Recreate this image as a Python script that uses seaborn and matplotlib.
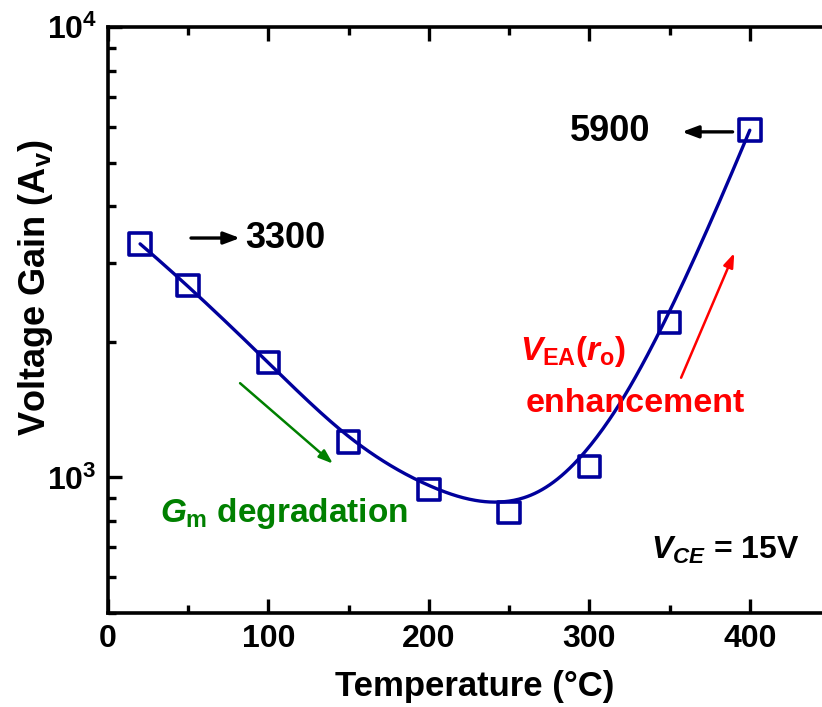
import numpy as np
import pandas as pd
import seaborn as sns
import matplotlib
matplotlib.use("Agg")
import matplotlib.pyplot as plt
from matplotlib.ticker import LogLocator, FixedLocator, NullFormatter, MultipleLocator

# Measured voltage gain vs. temperature
temperature = [20, 50, 100, 150, 200, 250, 300, 350, 400]
voltage_gain = [3300, 2670, 1800, 1200, 940, 835, 1058, 2210, 5900]

navy = "#00009C"
green = "#008000"
red = "#FF0000"

sns.set_theme(style="ticks")
plt.rcParams["font.family"] = ["Liberation Sans", "DejaVu Sans"]
plt.rcParams["font.weight"] = "bold"
plt.rcParams["text.color"] = "black"
plt.rcParams["axes.labelcolor"] = "black"
plt.rcParams["xtick.color"] = "black"
plt.rcParams["ytick.color"] = "black"
plt.rcParams["mathtext.fontset"] = "custom"
plt.rcParams["mathtext.rm"] = "Liberation Sans:bold"
plt.rcParams["mathtext.bf"] = "Liberation Sans:bold"
plt.rcParams["mathtext.it"] = "Liberation Sans:bold:italic"

df = pd.DataFrame({"T": temperature, "Av": voltage_gain})


def bspline_curve(x, y, n_out=400, k=3):
    """Clamped uniform B-spline using the data points as control points."""
    ctrl = np.column_stack([x, y]).astype(float)
    n = len(ctrl)
    knots = np.concatenate([np.zeros(k), np.arange(n - k + 1), np.full(k, n - k)]).astype(float)
    u = np.linspace(0, n - k, n_out)
    u[-1] -= 1e-9

    def basis(i, p, uu):
        if p == 0:
            return ((knots[i] <= uu) & (uu < knots[i + 1])).astype(float)
        out = np.zeros_like(uu)
        d1 = knots[i + p] - knots[i]
        d2 = knots[i + p + 1] - knots[i + 1]
        if d1 > 0:
            out += (uu - knots[i]) / d1 * basis(i, p - 1, uu)
        if d2 > 0:
            out += (knots[i + p + 1] - uu) / d2 * basis(i + 1, p - 1, uu)
        return out

    B = np.column_stack([basis(i, k, u) for i in range(n)])
    pts = B @ ctrl
    return pts[:, 0], pts[:, 1]


# Smooth connecting line, built in log space to follow the log axis
tx, ty = bspline_curve(df["T"].values, np.log10(df["Av"].values))
fit = pd.DataFrame({"T": tx, "Av": 10 ** ty})

fig = plt.figure(figsize=(8.22, 7.07), dpi=100)
ax = fig.add_axes([108 / 822, (707 - 613) / 707, (822 - 108) / 822, (613 - 27) / 707])

sns.lineplot(data=fit, x="T", y="Av", ax=ax, color=navy, lw=2.4, sort=False,
             estimator=None, zorder=2)
sns.scatterplot(data=df, x="T", y="Av", ax=ax, marker="s", s=240,
                facecolor="none", edgecolor=navy, linewidth=2.6, zorder=3)

ax.set_yscale("log")
ax.set_xlim(0, 445)
ax.set_ylim(500, 10000)

ax.xaxis.set_major_locator(MultipleLocator(100))
ax.xaxis.set_minor_locator(MultipleLocator(50))
ax.yaxis.set_major_locator(FixedLocator([1000, 10000]))
ax.yaxis.set_minor_locator(LogLocator(base=10, subs=np.arange(2, 10)))
ax.yaxis.set_minor_formatter(NullFormatter())
ax.set_yticklabels([r"10$^{3}$", r"10$^{4}$"])

ax.tick_params(axis="both", which="major", direction="in", length=10, width=2.4,
               labelsize=23, pad=8, top=True, colors="black")
ax.tick_params(axis="both", which="minor", direction="in", length=6, width=2.4,
               top=True, colors="black")
for lab in ax.get_xticklabels() + ax.get_yticklabels():
    lab.set_fontweight("bold")

for side in ["left", "bottom", "top"]:
    ax.spines[side].set_linewidth(2.6)
    ax.spines[side].set_color("black")
ax.spines["right"].set_visible(False)

ax.set_xlabel("Temperature (°C)", fontsize=25, fontweight="bold")
ax.xaxis.set_label_coords(0.514, -0.097)
ax.set_ylabel(r"Voltage Gain (A$_{\mathrm{v}}$)", fontsize=26, fontweight="bold")
ax.yaxis.set_label_coords(-0.074, 0.555)

# Value callouts
ax.annotate("", xy=(84, 3400), xytext=(50, 3400),
            arrowprops=dict(arrowstyle="-|>,head_length=0.8,head_width=0.3", color="black", lw=2.4))
ax.text(85.5, 3400, "3300", fontsize=26, fontweight="bold", va="center", ha="left")
ax.annotate("", xy=(356, 5850), xytext=(391, 5850),
            arrowprops=dict(arrowstyle="-|>,head_length=0.8,head_width=0.3", color="black", lw=2.4))
ax.text(338, 5850, "5900", fontsize=26, fontweight="bold", va="center", ha="right")

# Mechanism labels
ax.annotate("", xy=(141.5, 1063), xytext=(81, 1634),
            arrowprops=dict(arrowstyle="-|>,head_length=0.7,head_width=0.25", color=green, lw=1.8))
ax.text(32.5, 830, r"$\mathit{G}_{\mathrm{m}}$ degradation", fontsize=24, color=green,
        fontweight="bold", va="center", ha="left")

ax.annotate("", xy=(391, 3190), xytext=(356.5, 1643),
            arrowprops=dict(arrowstyle="-|>,head_length=0.7,head_width=0.25", color=red, lw=1.8))
ax.text(290, 1900, r"$\mathit{V}_{\mathrm{EA}}$($\mathit{r}_{\mathrm{o}}$)", fontsize=24, color=red,
        fontweight="bold", va="center", ha="center")
ax.text(328.5, 1460, "enhancement", fontsize=24.5, color=red, fontweight="bold",
        va="center", ha="center")

ax.text(431, 690, r"$\mathit{V}_{\mathit{CE}}$ = 15V", fontsize=23, color="black",
        fontweight="bold", va="center", ha="right")

fig.savefig("out.png", dpi=100)
